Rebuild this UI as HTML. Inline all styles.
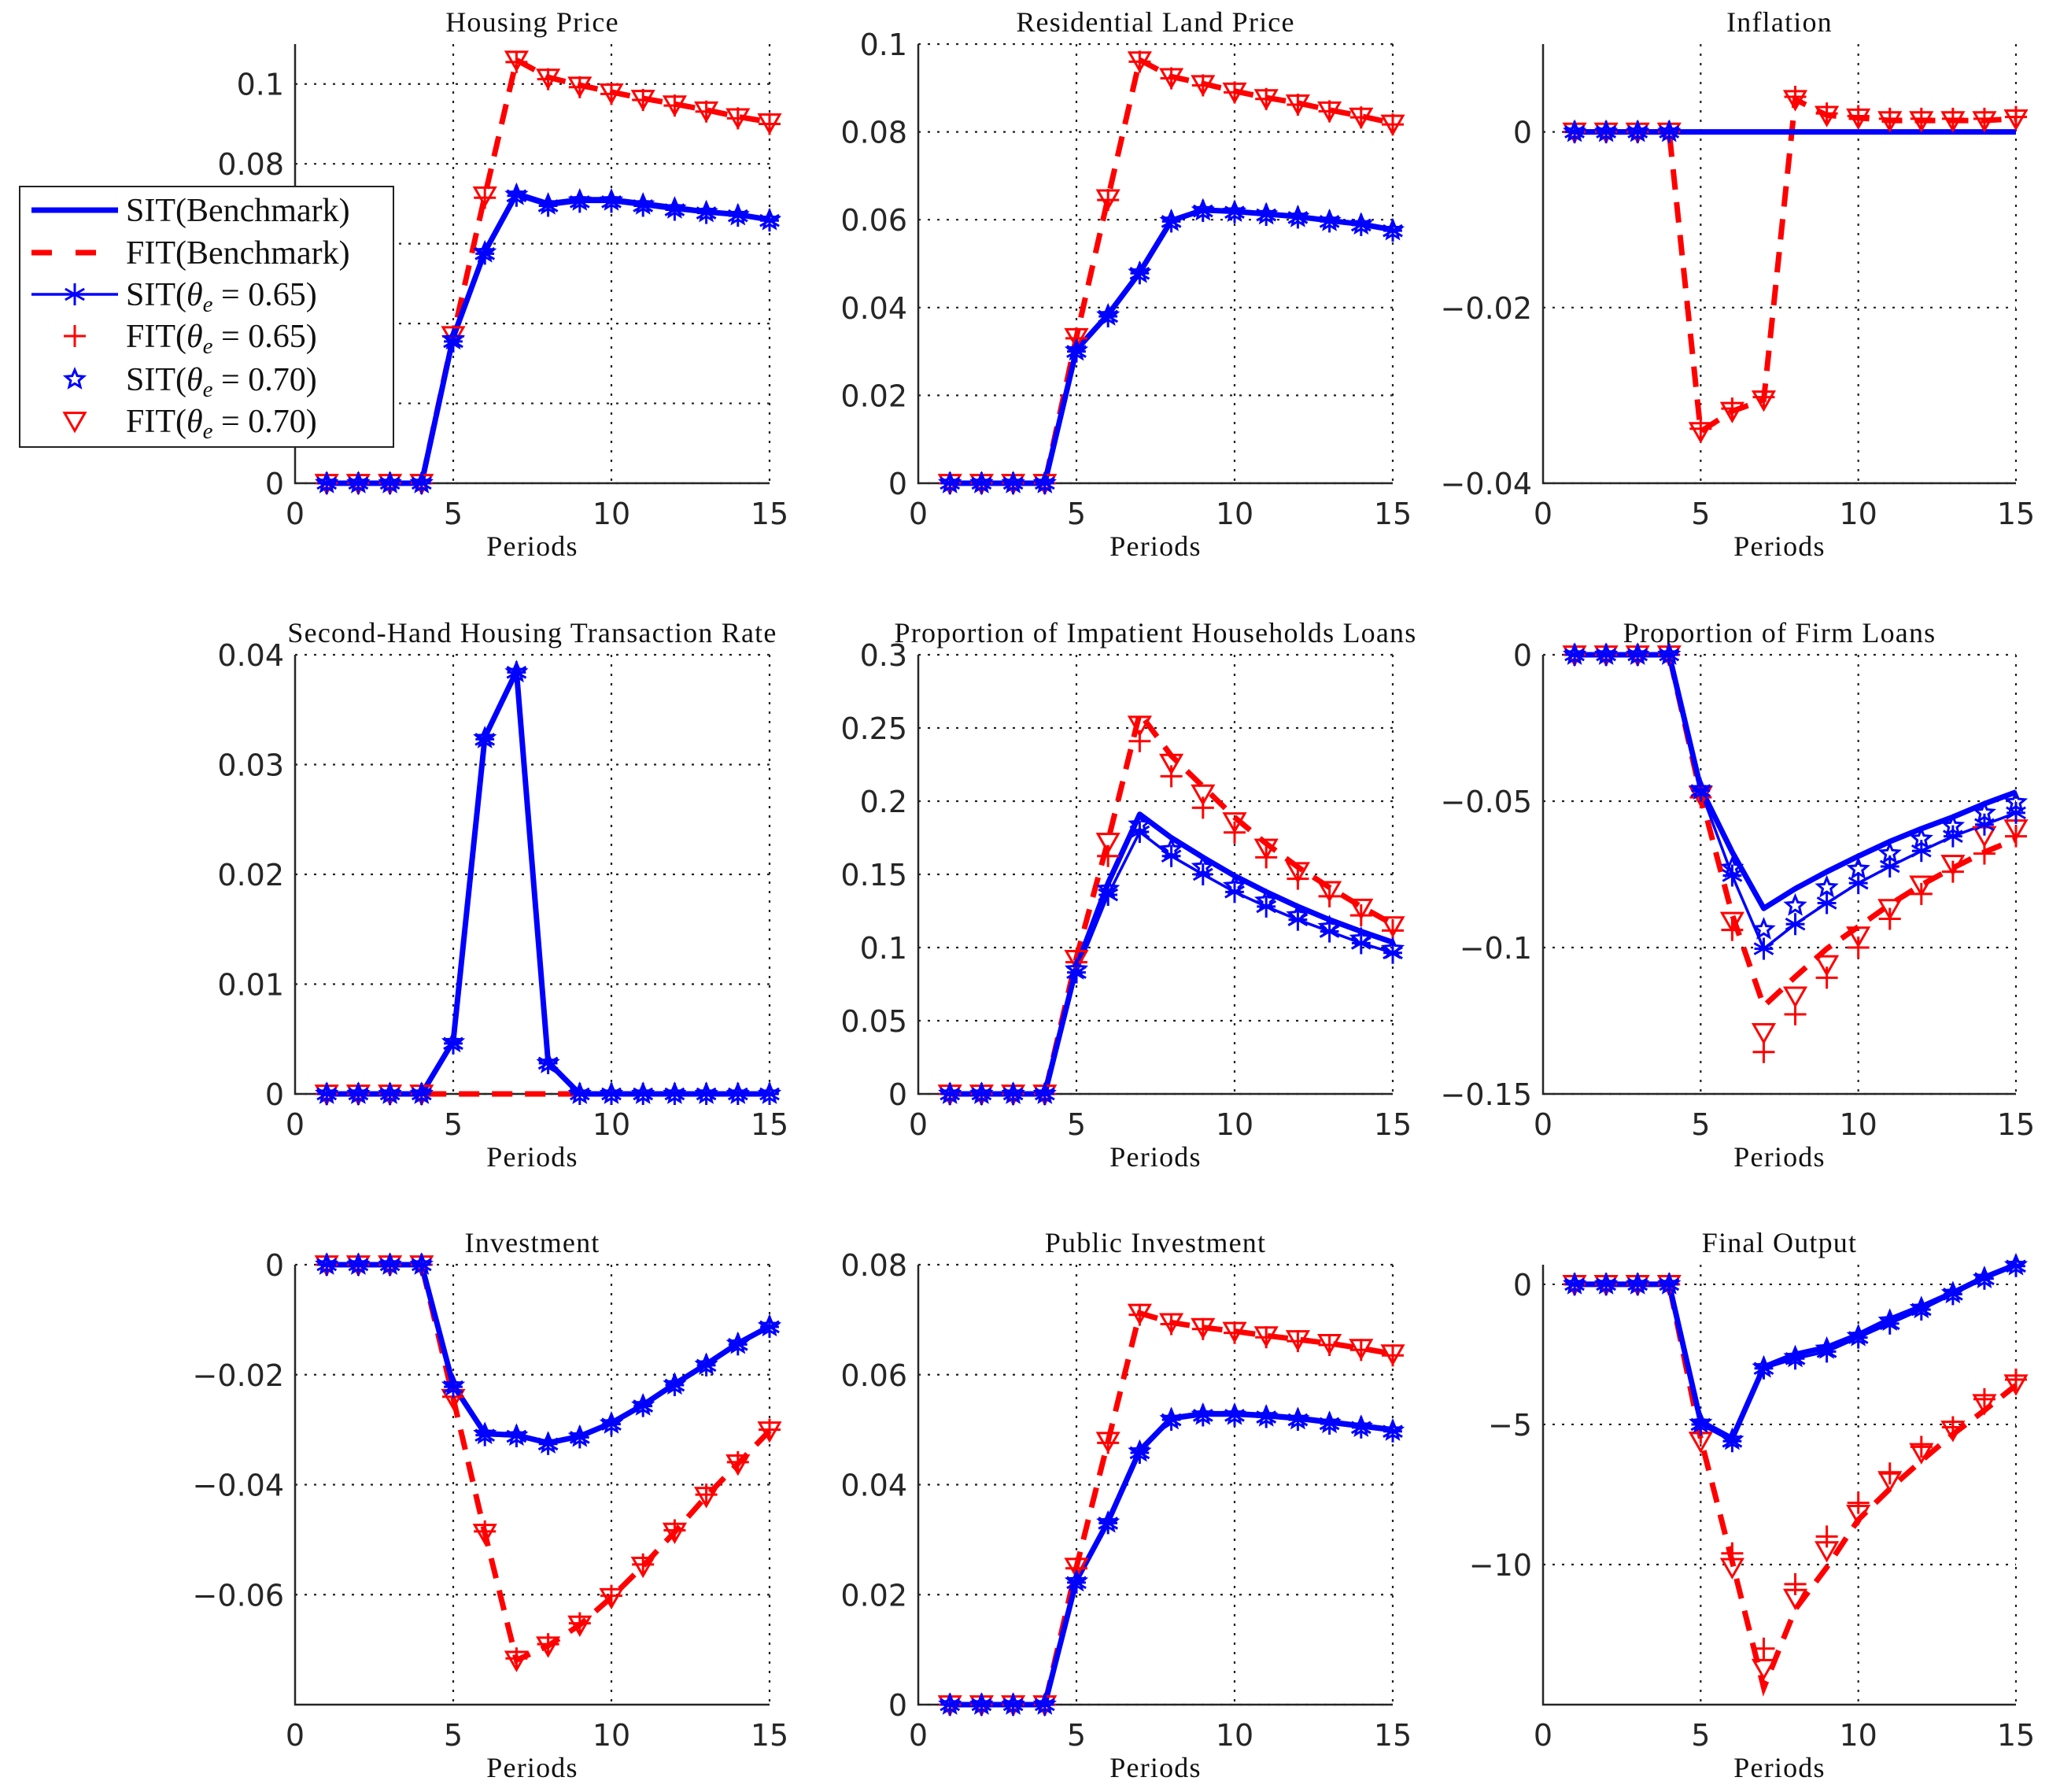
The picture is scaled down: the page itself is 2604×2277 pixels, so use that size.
<!DOCTYPE html>
<html><head><meta charset="utf-8"><style>
body{margin:0;background:#fff}
svg{display:block}
.tk{font-family:"DejaVu Sans","Liberation Sans",sans-serif;font-size:38px;fill:#262626}
.tt{font-family:"Liberation Serif","DejaVu Serif",serif;font-size:36px;fill:#111;letter-spacing:1.2px}
.lg{font-family:"Liberation Serif","DejaVu Serif",serif;font-size:42px;fill:#111}
</style></head><body>
<svg id="fig" width="2604" height="2277" viewBox="0 0 2604 2277" xmlns="http://www.w3.org/2000/svg"></svg>
<script>
const periods=[1,2,3,4,5,6,7,8,9,10,11,12,13,14,15];
const titles=["Housing Price","Residential Land Price","Inflation","Second-Hand Housing Transaction Rate","Proportion of Impatient Households Loans","Proportion of Firm Loans","Investment","Public Investment","Final Output"];
const yMin=[0,0,-0.04,0,0,-0.15,-0.08,0,-15];
const yMax=[0.11,0.1,0.01,0.04,0.3,0,0,0.08,0.7];
const yTicks=[[0,0.08,0.1],[0,0.02,0.04,0.06,0.08,0.1],[-0.04,-0.02,0],[0,0.01,0.02,0.03,0.04],[0,0.05,0.1,0.15,0.2,0.25,0.3],[-0.15,-0.1,-0.05,0],[-0.06,-0.04,-0.02,0],[0,0.02,0.04,0.06,0.08],[-10,-5,0]];
const yGrid=[[0,0.02,0.04,0.06,0.08,0.1],null,null,null,null,null,null,null,null];
const yTickLabels=[["0","0.08","0.1"],["0","0.02","0.04","0.06","0.08","0.1"],["\u22120.04","\u22120.02","0"],["0","0.01","0.02","0.03","0.04"],["0","0.05","0.1","0.15","0.2","0.25","0.3"],["\u22120.15","\u22120.1","\u22120.05","0"],["\u22120.06","\u22120.04","\u22120.02","0"],["0","0.02","0.04","0.06","0.08"],["\u221210","\u22125","0"]];
// series per panel: sitB, fitB, sit65, fit65, sit70, fit70
const sitBench=[
[0,0,0,0,0.0366,0.058,0.0725,0.070,0.071,0.071,0.070,0.069,0.068,0.0673,0.066],
[0,0,0,0,0.0304,0.0384,0.048,0.0598,0.0622,0.0619,0.0613,0.0607,0.0598,0.059,0.0577],
[0,0,0,0,0,0,0,0,0,0,0,0,0,0,0],
[0,0,0,0,0.0048,0.0325,0.0385,0.0029,0,0,0,0,0,0,0],
[0,0,0,0,0.0866,0.144,0.191,0.175,0.1616,0.149,0.138,0.128,0.119,0.111,0.1036],
[0,0,0,0,-0.0455,-0.0674,-0.0866,-0.0799,-0.0741,-0.0688,-0.0638,-0.0594,-0.0554,-0.0509,-0.0469],
[0,0,0,0,-0.0219,-0.0307,-0.031,-0.0324,-0.0312,-0.0288,-0.0255,-0.0217,-0.0181,-0.0143,-0.0112],
[0,0,0,0,0.0226,0.0333,0.0462,0.0521,0.0529,0.0529,0.0526,0.0521,0.0514,0.0507,0.05],
[0,0,0,0,-4.9,-5.5,-2.95,-2.5,-2.25,-1.8,-1.25,-0.8,-0.3,0.25,0.7]];
const fitBench=[
[0,0,0,0,0.037,0.072,0.106,0.1017,0.0997,0.098,0.0964,0.095,0.0935,0.0918,0.0905],
[0,0,0,0,0.0333,0.065,0.0964,0.0926,0.091,0.0893,0.0878,0.0866,0.085,0.0836,0.082],
[0,0,0,0,-0.0341,-0.0318,-0.0305,0.0037,0.0019,0.0016,0.0013,0.0013,0.0013,0.0013,0.0015],
[0,0,0,0,0,0,0,0,0,0,0,0,0,0,0],
[0,0,0,0,0.093,0.173,0.26,0.231,0.21,0.189,0.171,0.155,0.141,0.128,0.116],
[0,0,0,0,-0.0478,-0.0888,-0.12,-0.11,-0.1004,-0.0929,-0.0853,-0.0786,-0.0728,-0.0674,-0.063],
[0,0,0,0,-0.0243,-0.0488,-0.0719,-0.0693,-0.0655,-0.0605,-0.0548,-0.0486,-0.0421,-0.0362,-0.0302],
[0,0,0,0,0.025,0.0479,0.0712,0.0695,0.0686,0.0679,0.0671,0.0664,0.0657,0.0648,0.0638],
[0,0,0,0,-5.5,-9.9,-14.4,-11.6,-10.1,-8.4,-7.3,-6.3,-5.35,-4.5,-3.6]];
const sit065=[
[0,0,0,0,0.0355,0.0575,0.072,0.0695,0.0705,0.0705,0.0695,0.0685,0.0677,0.067,0.0658],
[0,0,0,0,0.03,0.038,0.0478,0.0596,0.062,0.0617,0.0611,0.0605,0.0596,0.0588,0.0575],
[0,0,0,0,0,0,0,0,0,0,0,0,0,0,0],
[0,0,0,0,0.0046,0.0323,0.0384,0.0028,0,0,0,0,0,0,0],
[0,0,0,0,0.083,0.136,0.179,0.1625,0.15,0.138,0.128,0.119,0.111,0.103,0.0964],
[0,0,0,0,-0.0464,-0.0754,-0.1004,-0.092,-0.0848,-0.078,-0.0723,-0.067,-0.062,-0.058,-0.054],
[0,0,0,0,-0.0222,-0.031,-0.0312,-0.0326,-0.0314,-0.029,-0.0257,-0.0219,-0.0183,-0.0145,-0.0113],
[0,0,0,0,0.0222,0.033,0.0458,0.0518,0.0526,0.0526,0.0523,0.0518,0.0511,0.0504,0.0497],
[0,0,0,0,-5.0,-5.6,-3.0,-2.65,-2.4,-1.9,-1.4,-0.9,-0.35,0.2,0.65]];
const fit065=[
[0,0,0,0,0.0368,0.0715,0.1055,0.1012,0.0992,0.0975,0.096,0.0946,0.0931,0.0914,0.09],
[0,0,0,0,0.033,0.0645,0.096,0.0922,0.0906,0.089,0.0875,0.0862,0.0847,0.0833,0.0817],
[0,0,0,0,-0.0338,-0.0315,-0.0302,0.004,0.0021,0.0018,0.0015,0.0015,0.0015,0.0015,0.0017],
[0,0,0,0,0,0,0,0,0,0,0,0,0,0,0],
[0,0,0,0,0.09,0.1625,0.241,0.217,0.1955,0.1786,0.1616,0.147,0.135,0.122,0.1116],
[0,0,0,0,-0.0487,-0.094,-0.1357,-0.1228,-0.1103,-0.1,-0.0902,-0.0817,-0.0741,-0.0679,-0.062],
[0,0,0,0,-0.024,-0.0485,-0.0716,-0.069,-0.0652,-0.0602,-0.0545,-0.0483,-0.0418,-0.0359,-0.03],
[0,0,0,0,0.0248,0.0476,0.0709,0.0692,0.0683,0.0676,0.0668,0.0661,0.0654,0.0645,0.0635],
[0,0,0,0,-5.3,-9.6,-13.0,-10.7,-9.0,-7.8,-6.75,-5.8,-5.1,-4.1,-3.4]];
const sit070=[
[0,0,0,0,0.036,0.0578,0.0722,0.0698,0.0708,0.0708,0.0698,0.0688,0.0679,0.0671,0.0659],
[0,0,0,0,0.0302,0.0382,0.0479,0.0597,0.0621,0.0618,0.0612,0.0606,0.0597,0.0589,0.0576],
[0,0,0,0,0,0,0,0,0,0,0,0,0,0,0],
[0,0,0,0,0.0047,0.0324,0.0384,0.0028,0,0,0,0,0,0,0],
[0,0,0,0,0.085,0.14,0.184,0.167,0.155,0.142,0.132,0.122,0.114,0.106,0.099],
[0,0,0,0,-0.046,-0.0728,-0.0938,-0.0857,-0.0795,-0.0732,-0.0679,-0.0629,-0.0585,-0.054,-0.0504],
[0,0,0,0,-0.022,-0.0308,-0.0311,-0.0325,-0.0313,-0.0289,-0.0256,-0.0218,-0.0182,-0.0144,-0.0112],
[0,0,0,0,0.0224,0.0331,0.046,0.0519,0.0527,0.0527,0.0524,0.0519,0.0512,0.0505,0.0498],
[0,0,0,0,-4.95,-5.55,-2.97,-2.6,-2.3,-1.85,-1.3,-0.85,-0.32,0.22,0.68]];
const fit070=[
[0,0,0,0,0.037,0.072,0.106,0.1015,0.0995,0.0978,0.0962,0.0948,0.0933,0.0916,0.0903],
[0,0,0,0,0.0332,0.0648,0.0962,0.0924,0.0908,0.0891,0.0876,0.0864,0.0848,0.0834,0.0818],
[0,0,0,0,-0.0341,-0.0318,-0.0305,0.0037,0.0019,0.0016,0.0013,0.0013,0.0013,0.0013,0.0015],
[0,0,0,0,0,0,0,0,0,0,0,0,0,0,0],
[0,0,0,0,0.092,0.172,0.252,0.226,0.205,0.186,0.168,0.152,0.139,0.127,0.115],
[0,0,0,0,-0.048,-0.091,-0.129,-0.1165,-0.1058,-0.096,-0.0866,-0.0786,-0.0715,-0.0617,-0.0594],
[0,0,0,0,-0.0243,-0.0488,-0.0719,-0.0693,-0.0655,-0.0605,-0.0548,-0.0486,-0.0421,-0.0362,-0.0302],
[0,0,0,0,0.025,0.0479,0.0712,0.0695,0.0686,0.0679,0.0671,0.0664,0.0657,0.0648,0.0638],
[0,0,0,0,-5.6,-10.1,-13.7,-11.2,-9.5,-8.2,-7.0,-6.0,-5.2,-4.25,-3.55]];
// panels where a marker family is not visible in the figure
const hideSitMarkers=[false,false,true,false,false,false,false,false,false];
const hideFitMarkers=[false,false,false,true,false,false,false,false,false];

const NS="http://www.w3.org/2000/svg";
const svg=document.getElementById('fig');
function mk(tag,attrs,parent){const e=document.createElementNS(NS,tag);for(const k in attrs)e.setAttribute(k,attrs[k]);(parent||svg).appendChild(e);return e;}
const colL=[375,1167,1961],colR=[978,1770,2562],rowT=[56,832,1607],rowB=[614,1390,2166];
const BLUE="#0000ff",RED="#ff0000";
function star(g,x,y,r,c,w){
  for(let a=0;a<3;a++){const t=a*Math.PI/3+Math.PI/2;mk('line',{x1:x-r*Math.cos(t),y1:y-r*Math.sin(t),x2:x+r*Math.cos(t),y2:y+r*Math.sin(t),stroke:c,'stroke-width':w},g);}
  mk('line',{x1:x-r*0.85,y1:y,x2:x+r*0.85,y2:y,stroke:c,'stroke-width':w},g);
}
function pent(g,x,y,r,c){let p=[];for(let i=0;i<10;i++){const rr=i%2?r*0.45:r;const t=-Math.PI/2+i*Math.PI/5;p.push((x+rr*Math.cos(t)).toFixed(1)+','+(y+rr*Math.sin(t)).toFixed(1));}
  mk('polygon',{points:p.join(' '),fill:'none',stroke:c,'stroke-width':3},g);}
function plus(g,x,y,r,c){mk('line',{x1:x-r,y1:y,x2:x+r,y2:y,stroke:c,'stroke-width':3},g);mk('line',{x1:x,y1:y-r,x2:x,y2:y+r,stroke:c,'stroke-width':3},g);}
function tri(g,x,y,r,c){mk('polygon',{points:`${x-r},${y-r*0.8} ${x+r},${y-r*0.8} ${x},${y+r*0.95}`,fill:'none',stroke:c,'stroke-width':3},g);}

for(let p=0;p<9;p++){
  const L=colL[p%3],R=colR[p%3],T=rowT[Math.floor(p/3)],B=rowB[Math.floor(p/3)];
  const xs=v=>L+(v/15)*(R-L);
  const ys=v=>B-(v-yMin[p])/(yMax[p]-yMin[p])*(B-T);
  const g=mk('g',{});
  
  
  [5,10,15].forEach(v=>{const l=mk('line',{x1:xs(v),y1:T,x2:xs(v),y2:B,stroke:'#222','stroke-width':2.2,'stroke-dasharray':'3 9'},g);});
  (yGrid[p]||yTicks[p]).forEach(v=>{const l=mk('line',{x1:L,y1:ys(v),x2:R,y2:ys(v),stroke:'#222','stroke-width':2.2,'stroke-dasharray':'3 9'},g);});
  const ax=mk('path',{d:`M${L},${T} L${L},${B} L${R},${B}`,fill:'none',stroke:'#262626','stroke-width':2.5},g);
  
  [0,5,10,15].forEach(v=>{const t=mk('text',{x:xs(v),y:B+52,'text-anchor':'middle',class:'tk'},g);t.textContent=String(v);});
  yTicks[p].forEach((v,i)=>{const t=mk('text',{x:L-14,y:ys(v)+14,'text-anchor':'end',class:'tk'},g);t.textContent=yTickLabels[p][i];});
  const tt=mk('text',{x:(L+R)/2,y:T-16,'text-anchor':'middle',class:'tt'},g);tt.textContent=titles[p];
  
  const xl=mk('text',{x:(L+R)/2,y:B+92,'text-anchor':'middle',class:'tt'},g);xl.textContent='Periods';
  
  const pts=arr=>arr.map((v,i)=>xs(periods[i]).toFixed(1)+','+ys(v).toFixed(1)).join(' ');
  let s;
  s=mk('polyline',{points:pts(fitBench[p]),fill:'none',stroke:RED,'stroke-width':7,'stroke-dasharray':'26 16'},g);
  
  s=mk('polyline',{points:pts(sitBench[p]),fill:'none',stroke:BLUE,'stroke-width':7,'stroke-linejoin':'round'},g);
  
  s=mk('polyline',{points:pts(sit065[p]),fill:'none',stroke:BLUE,'stroke-width':3.5},g);
  
  const mg=mk('g',{},g);
  periods.forEach((x,i)=>{
    const hideF=hideFitMarkers[p]&&i>=4, hideS=hideSitMarkers[p]&&i>=4;
    if(!hideF){tri(mg,xs(x),ys(fit070[p][i]),13,RED);plus(mg,xs(x),ys(fit065[p][i]),14,RED);}
    if(!hideS){pent(mg,xs(x),ys(sit070[p][i]),12,BLUE);star(mg,xs(x),ys(sit065[p][i]),14,BLUE,3);}
  });
}
const lg=mk('g',{});
mk('rect',{x:25,y:237,width:475,height:331,fill:'#fff',stroke:'#222','stroke-width':2},lg);
const legY=[267,321,374,427,482,535];
const legLabels=[["SIT(Benchmark)",null],["FIT(Benchmark)",null],["SIT(","0.65)"],["FIT(","0.65)"],["SIT(","0.70)"],["FIT(","0.70)"]];
legLabels.forEach((lb,i)=>{
  const y=legY[i];
  const e=mk('g',{},lg);
  if(i==0)mk('line',{x1:40,y1:y,x2:150,y2:y,stroke:BLUE,'stroke-width':7},e);
  if(i==1)mk('line',{x1:40,y1:y,x2:150,y2:y,stroke:RED,'stroke-width':7,'stroke-dasharray':'26 30'},e);
  if(i==2){mk('line',{x1:40,y1:y,x2:150,y2:y,stroke:BLUE,'stroke-width':3.5},e);star(e,95,y,14,BLUE,3);}
  if(i==3)plus(e,95,y,14,RED);
  if(i==4)pent(e,95,y,12,BLUE);
  if(i==5)tri(e,95,y,13,RED);
  const t=mk('text',{x:160,y:y+14,class:'lg'},e);
  if(lb[1]===null){t.textContent=lb[0];}
  else{
    t.appendChild(document.createTextNode(lb[0]));
    const th=mk('tspan',{'font-style':'italic'},t);th.textContent='\u03b8';
    const sb=mk('tspan',{'font-style':'italic','font-size':'29','dy':'8'},t);sb.textContent='e';
    const rest=mk('tspan',{'dy':'-8'},t);rest.textContent=' = '+lb[1];
  }
});
</script>
</body></html>
